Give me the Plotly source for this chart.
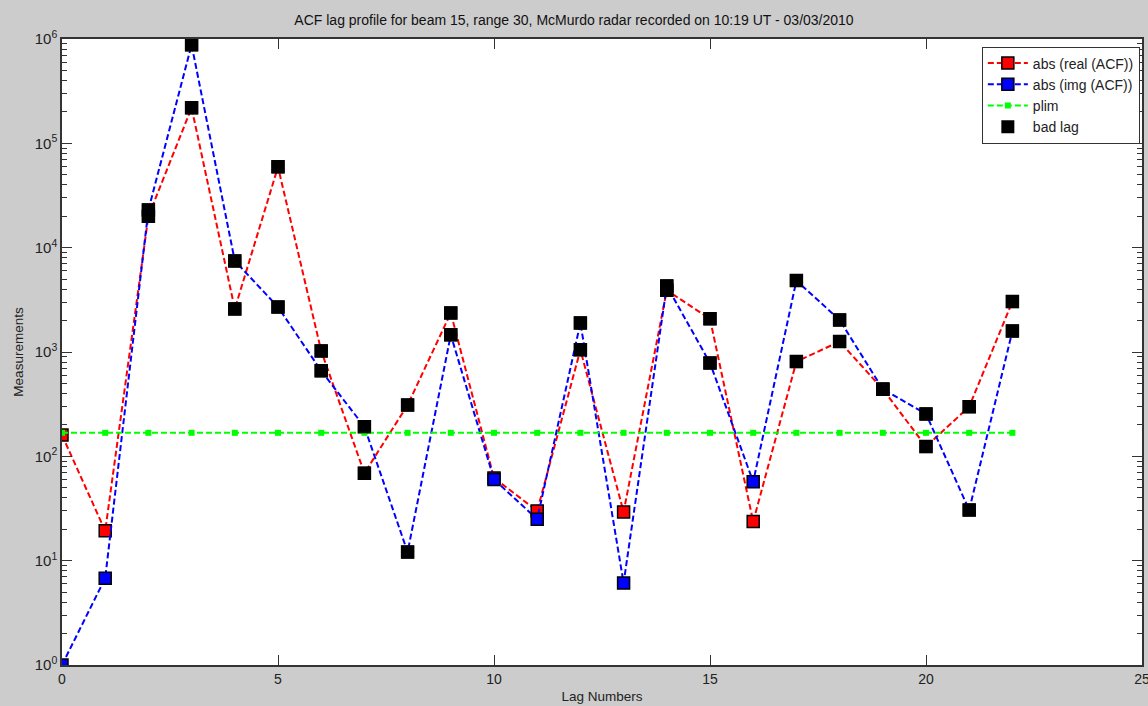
import plotly.graph_objects as go

lags = list(range(23))
real_acf = [160, 19.3, 20000, 219000, 2590, 59500, 1025, 69, 310, 2370, 62, 30, 1050, 29.3,
            3900, 2080, 23.7, 809, 1260, 440, 124, 299, 3040]
imag_acf = [1, 6.8, 23000, 880000, 7470, 2700, 660, 192, 12.1, 1460, 60, 25, 1900, 6.1,
            4300, 785, 57, 4840, 2030, 440, 255, 30.6, 1590]
plim = [168] * 23
bad_lags = [2, 3, 4, 5, 6, 7, 8, 9, 12, 14, 15, 17, 18, 19, 20, 21, 22]

ytick_vals = [1, 10, 100, 1000, 10000, 100000, 1000000]
ytick_text = ["10<sup>%d</sup>" % i for i in range(7)]
yminor_vals = [m * 10 ** e for e in range(6) for m in range(2, 10)]
xtick_vals = [0, 5, 10, 15, 20, 25]

font = "Liberation Sans, Arial, sans-serif"
dash = "6px,3px"

bad_x = list(bad_lags) + list(bad_lags)
bad_y = [real_acf[l] for l in bad_lags] + [imag_acf[l] for l in bad_lags]

fig = go.Figure()
fig.add_trace(go.Scatter(x=lags, y=real_acf, mode="lines+markers", name="abs (real (ACF))",
                         line=dict(color="#ff0000", width=2, dash=dash),
                         marker=dict(symbol="square", size=12, color="#ff0000",
                                     line=dict(color="black", width=1.5))))
fig.add_trace(go.Scatter(x=lags, y=imag_acf, mode="lines+markers", name="abs (img (ACF))",
                         line=dict(color="#0000ff", width=2, dash=dash),
                         marker=dict(symbol="square", size=12, color="#0000ff",
                                     line=dict(color="black", width=1.5))))
fig.add_trace(go.Scatter(x=lags, y=plim, mode="lines+markers", name="plim",
                         line=dict(color="#00ff00", width=2, dash=dash),
                         marker=dict(symbol="square", size=6, color="#00ff00")))
fig.add_trace(go.Scatter(x=bad_x, y=bad_y, mode="markers", name="bad lag",
                         marker=dict(symbol="square", size=13, color="black",
                                     line=dict(color="black", width=0))))

axis_common = dict(ticks="inside", ticklen=10, tickcolor="#333333", showgrid=False, zeroline=False,
                   showline=True, linecolor="#333333", linewidth=1.5, mirror="ticks",
                   automargin=False)

fig.update_layout(
    width=1148, height=706,
    margin=dict(l=62, r=6, t=39, b=41),
    paper_bgcolor="#cccccc", plot_bgcolor="white",
    font=dict(family=font, size=14, color="#222222"),
    title=dict(text="ACF lag profile for beam 15, range 30, McMurdo radar recorded on 10:19 UT - 03/03/2010",
               x=0.5, xanchor="center", y=1 - 20 / 706, yanchor="middle",
               font=dict(size=14, color="#111111")),
    xaxis=dict(range=[0, 25], tickmode="array", tickvals=xtick_vals,
               ticklabeloverflow="allow",
               title=dict(text="Lag Numbers", standoff=6, font=dict(size=13.5)),
               tickfont=dict(size=14), **axis_common),
    yaxis=dict(type="log", range=[0, 6], tickmode="array", tickvals=ytick_vals, ticktext=ytick_text,
               minor=dict(tickmode="array", tickvals=yminor_vals, ticks="inside", ticklen=5,
                          tickcolor="#333333", showgrid=False),
               title=dict(text="Measurements", standoff=8, font=dict(size=13.5)),
               tickfont=dict(size=15), **axis_common),
    legend=dict(x=0.998, xanchor="right", y=0.988, yanchor="top", bgcolor="white",
                bordercolor="#333333", borderwidth=1, font=dict(size=14),
                itemwidth=40, tracegroupgap=0),
    showlegend=True,
)

fig.write_html("out.html")
